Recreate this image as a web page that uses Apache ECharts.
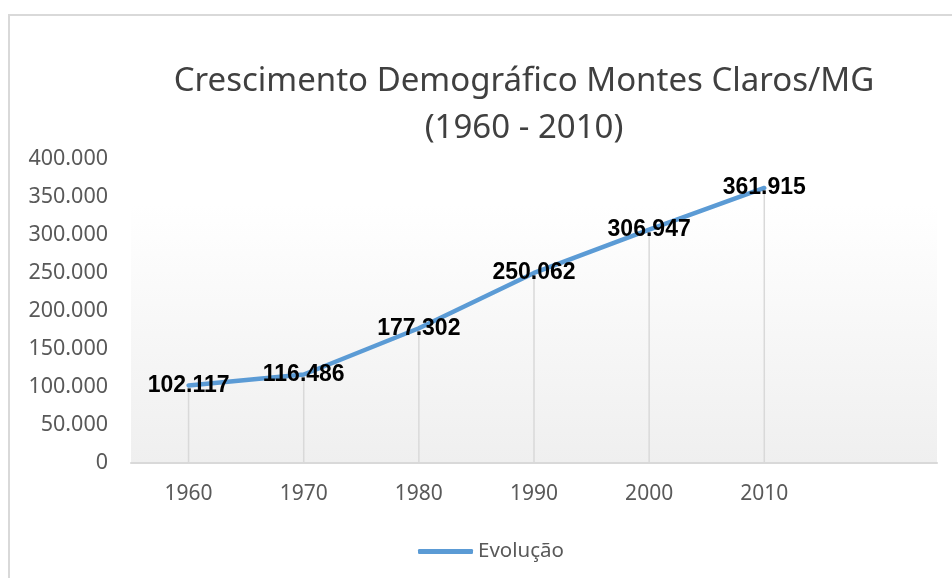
<!DOCTYPE html>
<html>
<head>
<meta charset="utf-8">
<script src="https://cdn.jsdelivr.net/npm/echarts@6/dist/echarts.min.js"></script>
<style>
  html, body { margin: 0; padding: 0; background: #fff; }
  #chart { width: 952px; height: 578px; }
</style>
</head>
<body>
<div id="chart"></div>
<script>
// anos do censo (última categoria vazia, como no gráfico original)
const years = ['1960', '1970', '1980', '1990', '2000', '2010', '']
const population = [102117, 116486, 177302, 250062, 306947, 361915]
const yTicks = { min: 0, max: 400000, interval: 50000 }
const seriesName = 'Evolução'

const fmt = (v) => String(v).replace(/\B(?=(\d{3})+(?!\d))/g, '.')

const chart = echarts.init(document.getElementById('chart'), null, { renderer: 'canvas' })

const option = {
  backgroundColor: '#fff',
  animation: false,
  title: {
    text: 'Crescimento Demográfico Montes Claros/MG\n(1960 - 2010)',
    left: 519,
    textAlign: 'center',
    top: 53,
    textStyle: {
      fontFamily: 'Noto Sans',
      fontWeight: 'normal',
      fontSize: 33,
      lineHeight: 47,
      color: '#404040'
    }
  },
  graphic: [
    {
      type: 'rect',
      shape: { x: 9, y: 15, width: 980, height: 620 },
      style: { fill: null, stroke: '#d9d9d9', lineWidth: 2 },
      silent: true
    }
  ],
  legend: {
    left: 413,
    top: 536,
    itemWidth: 55,
    itemHeight: 5,
    icon: 'roundRect',
    textStyle: { fontFamily: 'Noto Sans', fontSize: 20.5, color: '#595959' },
    data: [seriesName]
  },
  grid: {
    left: 131,
    right: 15,
    top: 159,
    bottom: 115,
    show: true,
    borderWidth: 0,
    backgroundColor: {
      type: 'linear', x: 0, y: 0, x2: 0, y2: 1,
      colorStops: [
        { offset: 0, color: '#ffffff' },
        { offset: 0.15, color: '#ffffff' },
        { offset: 1, color: '#efefef' }
      ]
    }
  },
  xAxis: {
    type: 'category',
    data: years,
    boundaryGap: true,
    axisLine: { lineStyle: { color: '#d9d9d9', width: 2 } },
    axisTick: { show: false },
    axisLabel: {
      margin: 21,
      fontFamily: 'Noto Sans',
      fontSize: 21,
      color: '#595959'
    }
  },
  yAxis: {
    type: 'value',
    min: yTicks.min,
    max: yTicks.max,
    interval: yTicks.interval,
    axisLine: { show: false },
    axisTick: { show: false },
    splitLine: { show: false },
    axisLabel: {
      margin: 23,
      fontFamily: 'Noto Sans',
      fontSize: 21.5,
      color: '#595959',
      formatter: fmt
    }
  },
  series: [
    {
      // linhas de projeção até o eixo
      type: 'bar',
      data: population,
      barWidth: 1.5,
      silent: true,
      z: 1,
      itemStyle: { color: '#d9d9d9' }
    },
    {
      name: seriesName,
      type: 'line',
      data: population,
      z: 3,
      symbol: 'circle',
      symbolSize: 0.1,
      showSymbol: true,
      lineStyle: { color: '#5b9bd5', width: 4.5, cap: 'round' },
      itemStyle: { color: '#5b9bd5' },
      label: {
        show: true,
        position: 'inside',
        fontFamily: 'Liberation Sans',
        fontWeight: 'bold',
        fontSize: 23,
        color: '#000',
        formatter: (p) => fmt(p.value)
      }
    }
  ]
}

chart.setOption(option)
</script>
</body>
</html>
